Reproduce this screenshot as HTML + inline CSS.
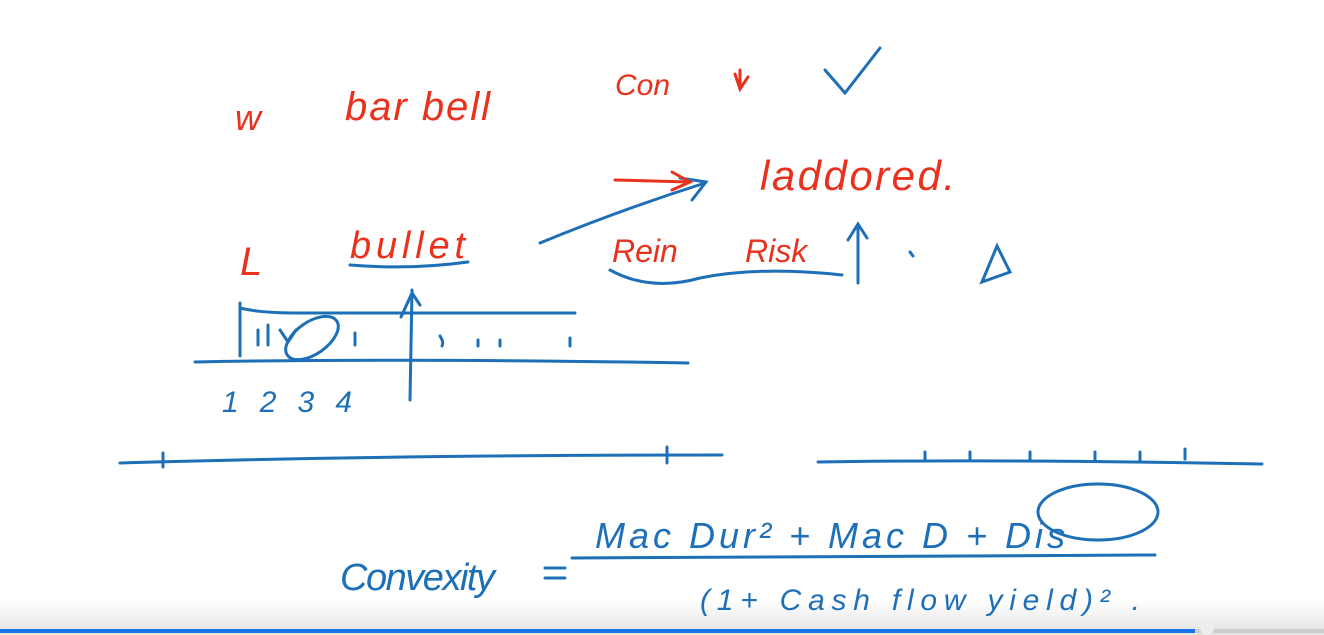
<!DOCTYPE html>
<html><head><meta charset="utf-8"><style>
html,body{margin:0;padding:0;width:1324px;height:635px;overflow:hidden;background:#fff}
svg{display:block}
text{font-family:"Liberation Sans",sans-serif;font-style:italic}
.r{fill:#e8321e}.b{fill:#1d6fb8}
</style></head><body>
<svg width="1324" height="635" viewBox="0 0 1324 635">
<defs><linearGradient id="g" x1="0" y1="0" x2="0" y2="1"><stop offset="0" stop-color="#fff"/><stop offset="1" stop-color="#e2e2e2"/></linearGradient></defs>
<rect x="0" y="600" width="1324" height="35" fill="url(#g)"/>
<g fill="none" stroke="#1d6fb8" stroke-width="3" stroke-linecap="round">
<path d="M240 303 L240 356 M240 308 Q260 313 300 313 L575 313"/>
<path d="M195 362 Q400 358 688 363"/>
<path d="M410 400 L412 290 M401 317 L412 293 L420 305"/>
<path d="M258 330 v15 M268 325 v20 M280 330 l8 12 l8-12 M355 333 v12 M440 336 q4 6 2 10 M478 340 v6 M500 340 v6 M570 338 v8"/>
<ellipse cx="312" cy="338" rx="30" ry="16" transform="rotate(-35 312 338)"/>
<path d="M120 463 Q400 455 722 455 M163 453 v14 M667 447 v16"/>
<path d="M818 462 Q1000 459 1262 464 M925 452 v8 M970 452 v8 M1030 452 v8 M1095 452 v8 M1140 452 v8 M1185 449 v10"/>
<path d="M540 243 Q620 210 705 183 M680 178 l26 4 l-14 18"/>
<path d="M825 70 L845 93 L880 48"/>
<path d="M858 283 L858 226 M848 240 L858 224 L867 238"/>
<path d="M910 252 l3 4"/>
<path d="M982 282 L997 246 L1010 272 Z"/>
<path d="M350 265 Q410 270 468 262"/>
<path d="M610 270 Q650 292 700 278 Q760 266 842 275"/>
<path d="M572 558 L1155 555"/>
<ellipse cx="1098" cy="512" rx="60" ry="28"/>
<path d="M545 568 h20 M545 578 h20"/>
</g>
<g fill="none" stroke="#e8321e" stroke-width="3" stroke-linecap="round">
<path d="M615 180 L690 182 M672 172 l18 10 l-18 8"/>
<path d="M735 74 l5 15 l8-12 M740 70 v18"/>
</g>
<text x="235" y="130" class="r" font-size="36">w</text>
<text x="345" y="120" class="r" font-size="40" textLength="145">bar bell</text>
<text x="615" y="95" class="r" font-size="30">Con</text>
<text x="240" y="275" class="r" font-size="40">L</text>
<text x="350" y="258" class="r" font-size="38" textLength="115">bullet</text>
<text x="760" y="190" class="r" font-size="42" textLength="195">laddored.</text>
<text x="612" y="262" class="r" font-size="32">Rein</text>
<text x="745" y="262" class="r" font-size="32">Risk</text>
<text x="222" y="412" class="b" font-size="30" textLength="130">1 2 3 4</text>
<text x="340" y="590" class="b" font-size="38" textLength="155">Convexity</text>
<text x="595" y="548" class="b" font-size="36" textLength="470">Mac Dur² + Mac D + Dis</text>
<text x="700" y="610" class="b" font-size="30" textLength="440">(1+ Cash flow yield)² .</text>
<rect x="0" y="629" width="1195" height="4" fill="#1a73e8"/>
<rect x="1195" y="629" width="129" height="4" fill="#ccc"/>
<circle cx="1207" cy="628" r="7" fill="#eee"/>
</svg>
</body></html>
